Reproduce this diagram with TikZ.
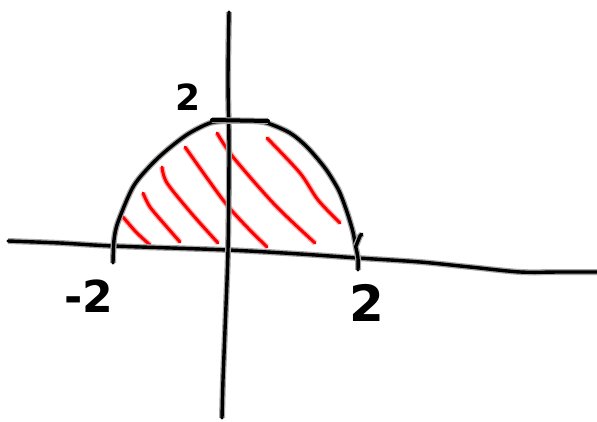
\documentclass[tikz,border=0pt]{standalone}
\usepackage{fontspec}
\setsansfont{DejaVu Sans}
\usetikzlibrary{positioning}
\begin{document}
\begin{tikzpicture}[x=1pt,y=-1pt,
pen/.style={line width=3.4pt,line cap=round,line join=round,draw=black,
  preaction={draw=black!35,line width=6pt}},
hatch/.style={line width=3pt,line cap=round,line join=round,draw=red,
  preaction={draw=red!30,line width=5.6pt}},
num/.style={inner sep=0pt,font=\sffamily\bfseries\fontsize{#1}{#1}\selectfont}]
\useasboundingbox (0,0) rectangle (597,422);
% red hatching
\draw[hatch] plot[smooth] coordinates {(123,217) (136,232) (150,245)};
\draw[hatch] plot[smooth] coordinates {(143,193) (150,207) (166,226) (180,242)};
\draw[hatch] plot[smooth] coordinates {(162,167) (167,183) (192,214) (218,243)};
\draw[hatch] plot[smooth] coordinates {(185,147) (223,200) (245,225) (267,247)};
\draw[hatch] plot[smooth] coordinates {(217,133) (233,157) (275,205) (315,243)};
\draw[hatch] plot[smooth] coordinates {(267,138) (300,173) (318,200) (340,223)};
% axes
\draw[pen] plot[smooth] coordinates {(8,241) (60,243) (113,246) (228,250) (300,254)
  (358,258) (420,262) (470,267) (520,272) (560,272) (597,272)};
\draw[pen] plot[smooth] coordinates {(229,12) (228,80) (229,150) (228,250)
  (225,330) (223,380) (222,418)};
% half circle
\draw[pen] plot[smooth] coordinates {(113,263) (114,240) (118,222) (133,187)
  (150,166) (167,150) (188,134) (210,123) (228,121) (250,121) (267,123)
  (290,133) (307,147) (325,168) (337,187) (342,198) (348,215) (353,232)
  (356,248) (358,258) (358,270)};
\draw[pen] (356,246) -- (360,236) -- (362,234);
\draw[pen,line width=4pt] (212,120) -- (268,121);
% labels
\node[num=36] (ytop) at (188,97) {2};
\node[num=44] (xneg) at (89,296) {-2};
\node[num=50] (xpos) at (367,303) {2};
\end{tikzpicture}
\end{document}
